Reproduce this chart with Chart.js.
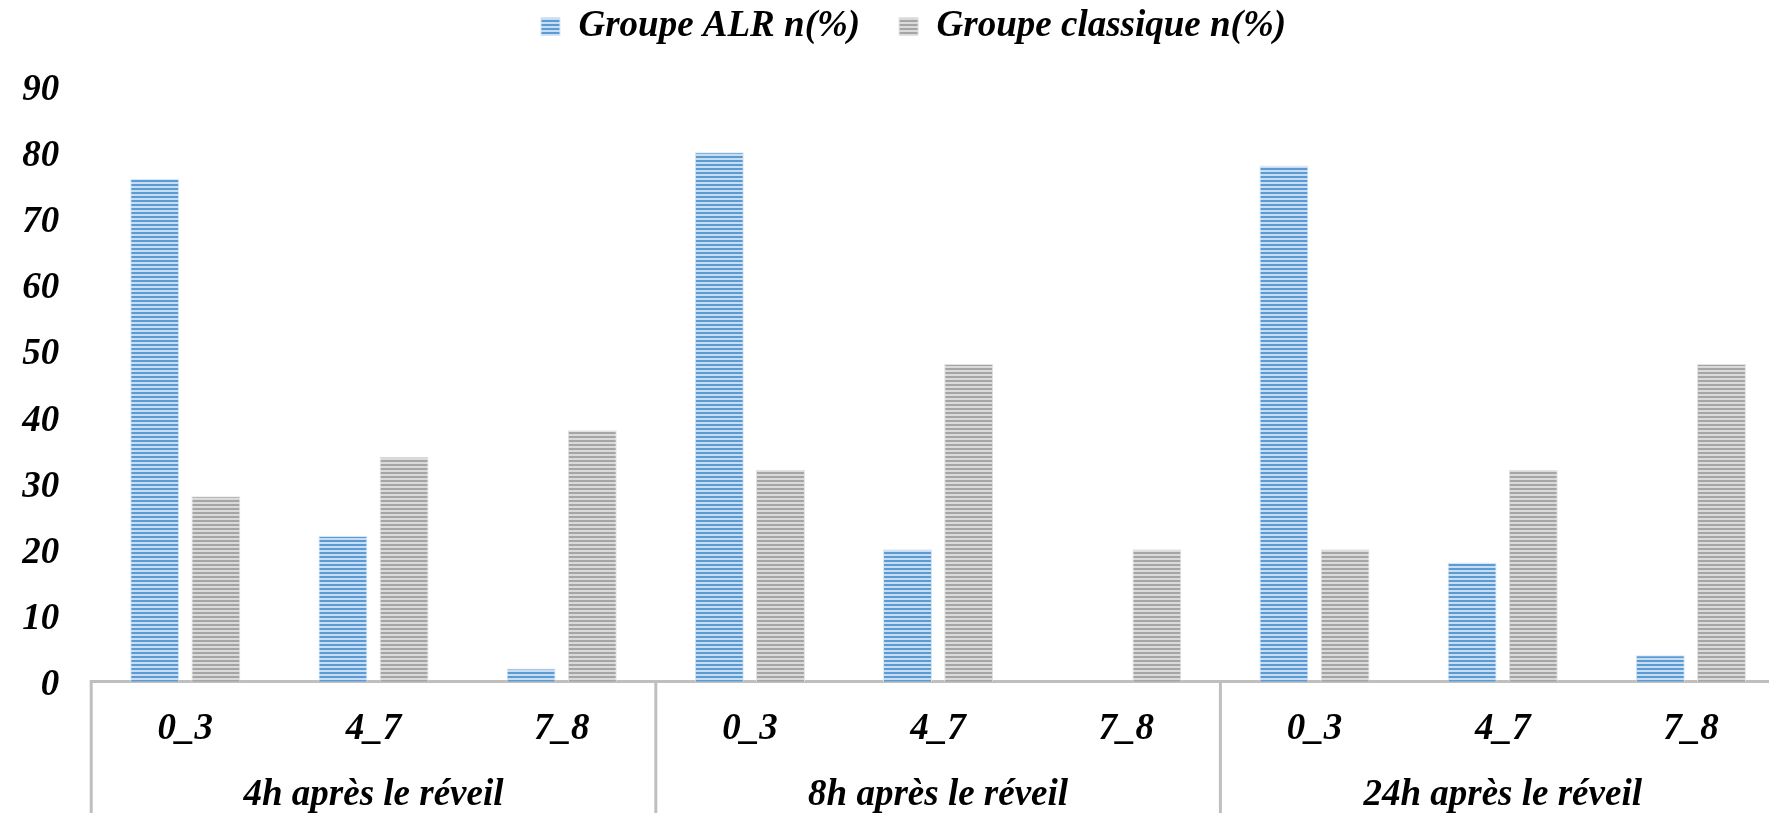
<!DOCTYPE html>
<html>
<head>
<meta charset="utf-8">
<script src="https://cdn.jsdelivr.net/npm/chart.js@4.4.0/dist/chart.umd.min.js"></script>
<style>
  html, body { margin: 0; padding: 0; background: #fff; overflow: hidden; }
  #wrap { width: 1790px; height: 813px; }
</style>
</head>
<body>
<div id="wrap"><canvas id="chart" width="1790" height="813"></canvas></div>
<script>
const categories = ['0_3', '4_7', '7_8', '0_3', '4_7', '7_8', '0_3', '4_7', '7_8']
const groups = ['4h après le réveil', '8h après le réveil', '24h après le réveil']
const alrValues = [76, 22, 2, 80, 20, 0, 78, 18, 4]
const classiqueValues = [28, 34, 38, 32, 48, 20, 20, 32, 48]
const yTicks = [0, 10, 20, 30, 40, 50, 60, 70, 80, 90]

// striped fill like the original (horizontal lines)
function stripes(dark, light) {
   const c = document.createElement('canvas')
   c.width = 4
   c.height = 4
   const g = c.getContext('2d')
   g.fillStyle = light
   g.fillRect(0, 0, 4, 4)
   g.fillStyle = dark
   g.fillRect(0, 0, 4, 2)
   return g.createPattern(c, 'repeat')
}

const blueFill = stripes('#5B9BD5', '#C9DDF1')
const greyFill = stripes('#A5A5A5', '#DADADA')

Chart.defaults.font.family = "'Liberation Serif', 'Times New Roman', serif"
Chart.defaults.font.size = 37
Chart.defaults.font.weight = 'bold'
Chart.defaults.font.style = 'italic'
Chart.defaults.color = '#000'

// legend nudge + group separators under the axis
const groupLines = {
   id: 'groupLines',
   afterLayout(chart) {
      // legend sits higher and a bit right of centre in the original
      chart.legend.left += 21
      chart.legend.right += 21
      chart.legend.top -= 31
      chart.legend.bottom -= 31
   },
   afterDraw(chart) {
      const x = chart.scales.x
      const ctx = chart.ctx
      const half = (x.getPixelForValue(1) - x.getPixelForValue(0)) / 2
      ctx.save()
      ctx.strokeStyle = '#BFBFBF'
      ctx.lineWidth = 3
      for (let i = 0; i <= categories.length; i += 3) {
         const px = x.getPixelForValue(i) - half
         ctx.beginPath()
         ctx.moveTo(px, chart.chartArea.bottom - 1.5)
         ctx.lineTo(px, chart.height)
         ctx.stroke()
      }
      ctx.restore()
   }
}

new Chart(document.getElementById('chart'), {
   type: 'bar',
   data: {
      labels: categories,
      datasets: [{
         label: 'Groupe ALR n(%)',
         data: alrValues,
         backgroundColor: blueFill,
         borderColor: '#D6E6F5',
         borderWidth: 1,
         categoryPercentage: 0.65,
         barPercentage: 0.8
      }, {
         label: 'Groupe classique n(%)',
         data: classiqueValues,
         backgroundColor: greyFill,
         borderColor: '#E2E2E2',
         borderWidth: 1,
         categoryPercentage: 0.65,
         barPercentage: 0.8
      }]
   },
   options: {
      responsive: false,
      animation: false,
      layout: {
         padding: { left: 0, right: 5, top: 0, bottom: 0 }
      },
      plugins: {
         tooltip: { enabled: false },
         legend: {
            position: 'top',
            labels: {
               boxWidth: 19,
               boxHeight: 18,
               padding: 39
            }
         }
      },
      scales: {
         x: {
            weight: 0,
            grid: { display: false, drawTicks: false },
            border: { display: true, color: '#BFBFBF', width: 3 },
            ticks: { padding: 26, maxRotation: 0, autoSkip: false },
            afterFit: (scale) => { scale.height = 66 }
         },
         x2: {
            type: 'category',
            position: 'bottom',
            weight: 1,
            labels: groups,
            offset: true,
            grid: { display: false, drawTicks: false },
            border: { display: false },
            ticks: { padding: 26, maxRotation: 0, autoSkip: false },
            afterFit: (scale) => { scale.height = 65.3 }
         },
         y: {
            min: 0,
            max: 90,
            grid: { display: false, drawTicks: false },
            border: { display: false },
            afterFit: (scale) => { scale.width = 91.2 },
            afterBuildTicks: (scale) => { scale.ticks = yTicks.map(v => ({ value: v })) },
            ticks: { padding: 32, labelOffset: 4 }
         }
      }
   },
   plugins: [groupLines]
});
</script>
</body>
</html>
